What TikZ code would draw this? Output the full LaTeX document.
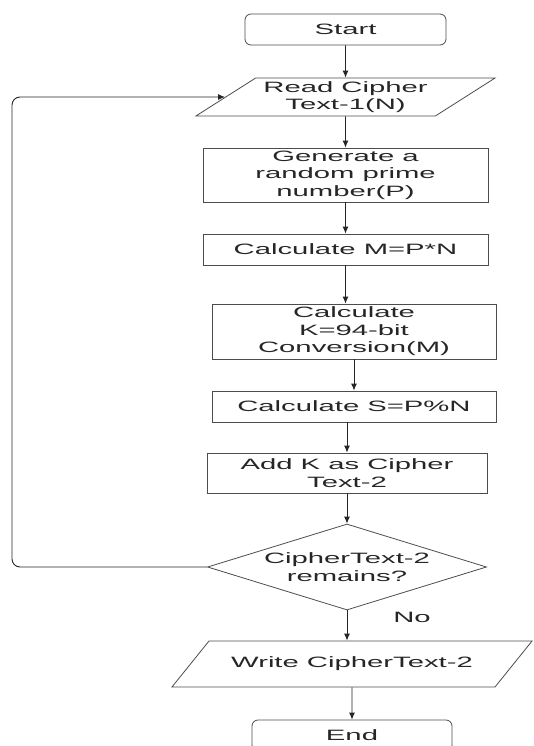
\documentclass[tikz,border=0pt]{standalone}
\usepackage{fontspec}
\setmainfont{Liberation Sans}[FakeStretch=1.95]
\usetikzlibrary{shapes.geometric,arrows.meta}

\tikzset{
  box/.style={draw=black!70, line width=0.8pt, align=center, inner sep=2pt},
  term/.style={box, rounded corners=6pt},
  io/.style={box, trapezium, trapezium left angle=33, trapezium right angle=147,
    trapezium stretches=true, inner xsep=0pt},
  decision/.style={box, diamond, aspect=3.2, inner sep=0pt},
  flow/.style={->, draw=black!85, line width=0.9pt},
}

\begin{document}
\begin{tikzpicture}[x=1pt, y=-1pt, >={Latex[length=7pt,width=6pt]}, font=\fontsize{15}{17.5}\selectfont, text=black!85]
\useasboundingbox (0,0) rectangle (533,746);

\node[term, minimum width=201, minimum height=31] (start) at (345.5,29.5) {Start};

\node[io, minimum width=300, minimum height=38] (rd) at (345.5,97) {Read Cipher\\Text-1(N)};

\node[box, minimum width=285, minimum height=54] (gen) at (345.5,175) {Generate a\\random prime\\number(P)};

\node[box, minimum width=285, minimum height=31] (calcm) at (345.5,249.5) {Calculate M=P*N};

\node[box, minimum width=284, minimum height=55] (calck) at (354,331.5) {Calculate\\K=94-bit\\Conversion(M)};

\node[box, minimum width=284, minimum height=31] (calcs) at (354,406.5) {Calculate S=P\%N};

\node[box, minimum width=280, minimum height=40] (addk) at (347,473) {Add K as Cipher\\Text-2};

\node[decision, minimum width=279, minimum height=86] (cond) at (347,567) {CipherText-2\\remains?};

\node (no) at (412,617) {No};

\node[io, minimum width=361, minimum height=46, inner xsep=-14pt] (wr) at (352,664) {Write CipherText-2};

\node[term, minimum width=200, minimum height=31] (fin) at (352,735.5) {End};

\coordinate (loop) at (12,330);

\draw[flow] (start) -- (rd);
\draw[flow] (rd) -- (gen);
\draw[flow] (gen) -- (calcm);
\draw[flow] (calcm.south) -- (calcm.south |- calck.north);
\draw[flow] (calck) -- (calcs);
\draw[flow] (addk.north |- calcs.south) -- (addk);
\draw[flow] (addk) -- (cond);
\draw[flow] (cond.south) -- (cond.south |- wr.north);
\draw[flow] (wr) -- (fin);
\draw[flow, rounded corners=8pt] (cond.west) -| (loop) |- (rd.west);

\end{tikzpicture}
\end{document}
